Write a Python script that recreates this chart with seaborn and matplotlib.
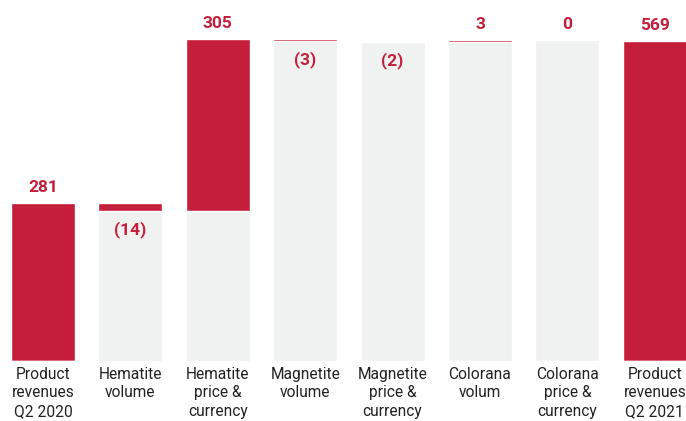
import numpy as np
import pandas as pd
import matplotlib
matplotlib.use("Agg")
import matplotlib.pyplot as plt
import seaborn as sns

categories = ["Product\nrevenues\nQ2 2020", "Hematite\nvolume", "Hematite\nprice &\ncurrency",
              "Magnetite\nvolume", "Magnetite\nprice &\ncurrency", "Colorana\nvolum",
              "Colorana\nprice &\ncurrency", "Product\nrevenues\nQ2 2021"]
changes = [281, -14, 305, -3, -2, 3, 0, 569]
is_total = [True, False, False, False, False, False, False, True]

RED = "#C41E3A"
GREY = "#F0F1F1"

tops, bases = [], []
level = 0
for v, t in zip(changes, is_total):
    if t:
        tops.append(v); bases.append(0); level = v
    else:
        new = level + v
        tops.append(max(level, new)); bases.append(min(level, new)); level = new

df = pd.DataFrame({"cat": categories, "top": tops, "base": bases})

sns.set_theme(style="white")
plt.rcParams["font.family"] = ["Roboto", "DejaVu Sans"]

fig = plt.figure(figsize=(6.86, 4.21), dpi=100)
ax = fig.add_axes([0, 60 / 421, 1, 361 / 421])

sns.barplot(data=df, x="cat", y="top", color=RED, saturation=1, width=0.732, ax=ax)
sns.barplot(data=df, x="cat", y="base", color=GREY, saturation=1, width=0.732, ax=ax)

ax.set_xlim(-0.492, 7.357)
ax.set_ylim(0, 642)
ax.set_xlabel("")
ax.set_ylabel("")
ax.set_yticks([])
ax.tick_params(axis="x", length=0, pad=4, labelsize=11.2, labelcolor="#222222")
for lab in ax.get_xticklabels():
    lab.set_linespacing(1.32)
    lab.set_verticalalignment("top")
for s in ax.spines.values():
    s.set_visible(False)

for i, (v, t) in enumerate(zip(changes, is_total)):
    if v >= 0:
        txt = f"{v}"
        ax.annotate(txt, (i, tops[i]), xytext=(0, 11.5), textcoords="offset points",
                    ha="center", va="center", color=RED, fontsize=12.5, fontweight="bold")
    else:
        txt = f"({abs(v)})"
        ax.annotate(txt, (i, bases[i]), xytext=(0, -13.5), textcoords="offset points",
                    ha="center", va="center", color=RED, fontsize=12.5, fontweight="bold")

fig.savefig("out.png", dpi=100)
